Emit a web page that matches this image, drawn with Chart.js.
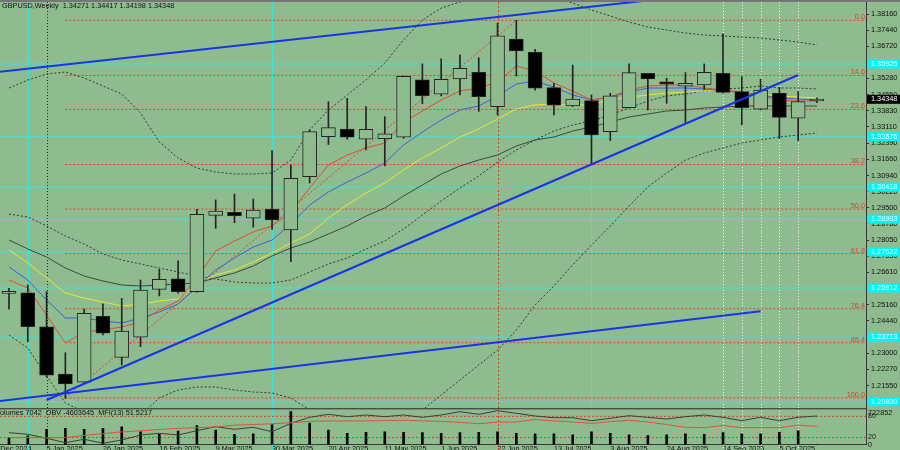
<!DOCTYPE html>
<html>
<head>
<meta charset="utf-8">
<title>GBPUSD Weekly</title>
<script src="https://cdn.jsdelivr.net/npm/chart.js@4.4.1/dist/chart.umd.min.js"></script>
<style>
  html, body { margin:0; padding:0; width:900px; height:450px; overflow:hidden; background:#8fbc8f; }
  #wrap { position:relative; width:900px; height:450px; overflow:hidden; background:#8fbc8f; }
  canvas { position:absolute; left:0; display:block; }
  #main { top:0; }
  #ind { top:408px; }
</style>
</head>
<body>
<div id="wrap">
  <canvas id="main" width="900" height="409"></canvas>
  <canvas id="ind" width="900" height="48"></canvas>
</div>
<script>
// ================= DATA =================
const symbolTitle = 'GBPUSD,Weekly';
const weeks = ['22 Dec 2024','29 Dec 2024','5 Jan 2025','12 Jan 2025','19 Jan 2025','26 Jan 2025','2 Feb 2025','9 Feb 2025','16 Feb 2025','23 Feb 2025','2 Mar 2025','9 Mar 2025','16 Mar 2025','23 Mar 2025','30 Mar 2025','6 Apr 2025','13 Apr 2025','20 Apr 2025','27 Apr 2025','4 May 2025','11 May 2025','18 May 2025','25 May 2025','1 Jun 2025','8 Jun 2025','15 Jun 2025','22 Jun 2025','29 Jun 2025','6 Jul 2025','13 Jul 2025','20 Jul 2025','27 Jul 2025','3 Aug 2025','10 Aug 2025','17 Aug 2025','24 Aug 2025','31 Aug 2025','7 Sep 2025','14 Sep 2025','21 Sep 2025','28 Sep 2025','5 Oct 2025','12 Oct 2025','19 Oct 2025'];

const opens  = [1.2567,1.2570,1.2418,1.2206,1.2170,1.2465,1.2281,1.2371,1.2585,1.2632,1.2575,1.2916,1.2930,1.2903,1.2943,1.2851,1.3089,1.3268,1.3302,1.3256,1.3259,1.3265,1.3522,1.3458,1.3526,1.3555,1.3402,1.3704,1.3645,1.3487,1.3405,1.3429,1.3290,1.3397,1.3551,1.3513,1.3494,1.3499,1.3551,1.3469,1.3391,1.3462,1.3350,1.34271];
const highs  = [1.2590,1.2605,1.2575,1.2302,1.2497,1.2520,1.2545,1.2627,1.2675,1.2713,1.2943,1.2985,1.3011,1.2989,1.3206,1.3141,1.3298,1.3424,1.3439,1.3402,1.3357,1.3539,1.3593,1.3616,1.3633,1.3621,1.3775,1.3788,1.3658,1.3506,1.3588,1.3454,1.3462,1.3593,1.3551,1.3529,1.3554,1.3593,1.3727,1.3536,1.3524,1.3488,1.3469,1.34417];
const lows   = [1.2497,1.2351,1.2193,1.2098,1.2167,1.2381,1.2247,1.2329,1.2556,1.2568,1.2573,1.2858,1.2883,1.2863,1.2853,1.2709,1.3061,1.3233,1.3256,1.3208,1.3137,1.3260,1.3415,1.3450,1.3454,1.3381,1.3365,1.3539,1.3476,1.3365,1.3402,1.3141,1.3250,1.3397,1.3387,1.3417,1.3330,1.3479,1.3462,1.3320,1.3387,1.3260,1.3250,1.34198];
const closes = [1.2575,1.2418,1.2202,1.2162,1.2478,1.2389,1.2399,1.2582,1.2630,1.2575,1.2921,1.2935,1.2914,1.2940,1.2895,1.3082,1.3290,1.3308,1.3265,1.3301,1.3280,1.3537,1.3451,1.3524,1.3573,1.3446,1.3718,1.3651,1.3484,1.3409,1.3436,1.3275,1.3450,1.3554,1.3526,1.3502,1.3506,1.3555,1.3466,1.3397,1.3476,1.3354,1.3424,1.34348];

const maRed    = [1.26270,1.25912,1.24705,1.23454,1.23946,1.24035,1.24169,1.24393,1.24929,1.25331,1.26359,1.27566,1.28013,1.28416,1.28684,1.29310,1.30382,1.31411,1.31857,1.32170,1.32394,1.33333,1.33824,1.34316,1.34718,1.34852,1.35121,1.35836,1.35612,1.35076,1.34718,1.34316,1.34450,1.34763,1.34942,1.34987,1.34987,1.34852,1.34763,1.34674,1.34495,1.34316,1.34271,1.34271];
const maBlue   = [1.26851,1.26270,1.25376,1.24571,1.24571,1.24437,1.24348,1.24571,1.24840,1.25198,1.25957,1.26717,1.27253,1.27745,1.28058,1.28773,1.29622,1.30204,1.30651,1.31053,1.31500,1.32305,1.32884,1.33422,1.33869,1.34048,1.34495,1.35031,1.35165,1.34897,1.34540,1.34316,1.34450,1.34674,1.34852,1.34852,1.34852,1.34808,1.34718,1.34674,1.34540,1.34405,1.34361,1.34316];
const maYellow = [1.27611,1.27030,1.26359,1.25689,1.25465,1.25287,1.25108,1.25198,1.25331,1.25421,1.26136,1.26494,1.26717,1.27075,1.27477,1.27924,1.28326,1.29041,1.29622,1.30159,1.30606,1.31187,1.31723,1.32170,1.32662,1.33020,1.33467,1.33914,1.34093,1.34137,1.34048,1.34137,1.34316,1.34450,1.34540,1.34629,1.34674,1.34718,1.34763,1.34674,1.34584,1.34495,1.34450,1.34405];
const maDark   = [1.28058,1.27656,1.27298,1.26806,1.26449,1.26225,1.26047,1.26002,1.26047,1.26091,1.26136,1.26359,1.26583,1.26896,1.27343,1.27700,1.27968,1.28326,1.28684,1.29130,1.29488,1.30025,1.30516,1.31008,1.31366,1.31634,1.31857,1.32260,1.32528,1.32662,1.32930,1.33109,1.33333,1.33557,1.33690,1.33824,1.33869,1.33958,1.34003,1.34048,1.34048,1.34048,1.34048,1.34048];
const bbUpper  = [1.34852,1.35210,1.35478,1.35568,1.35299,1.34942,1.34584,1.33735,1.32438,1.31723,1.31276,1.31098,1.31008,1.31008,1.31053,1.31634,1.32975,1.33869,1.34540,1.35210,1.35970,1.36998,1.37892,1.38428,1.38697,1.38875,1.39010,1.39054,1.39010,1.38875,1.38652,1.38339,1.38071,1.37803,1.37579,1.37445,1.37311,1.37222,1.37177,1.37132,1.37087,1.36998,1.36909,1.36775];
const bbMiddle = [1.29220,1.29086,1.28684,1.28237,1.27879,1.27432,1.27164,1.26985,1.26806,1.26628,1.26449,1.26315,1.26181,1.26136,1.26136,1.26270,1.26628,1.26985,1.27253,1.27656,1.28013,1.28550,1.29175,1.29801,1.30382,1.30919,1.31545,1.32081,1.32528,1.32930,1.33199,1.33377,1.33646,1.33958,1.34271,1.34495,1.34584,1.34718,1.34808,1.34852,1.34942,1.34852,1.34852,1.34808];
const bbLower  = [1.23811,1.23230,1.21979,1.20772,1.20370,1.20012,1.19789,1.20234,1.20995,1.21353,1.21487,1.21487,1.21353,1.21264,1.21219,1.20995,1.20459,1.20191,1.20101,1.20191,1.20101,1.20101,1.20459,1.21129,1.21800,1.22470,1.23136,1.24035,1.25152,1.26002,1.26941,1.27834,1.28684,1.29578,1.30427,1.31053,1.31634,1.31947,1.32170,1.32394,1.32528,1.32662,1.32751,1.32841];

const volumes = [142000,191000,334000,355000,334000,355000,389000,283000,227000,298000,419000,319000,227000,234000,440000,722852,474000,319000,249000,270000,283000,270000,262000,249000,262000,270000,283000,249000,234000,234000,213000,283000,249000,213000,198000,213000,234000,227000,262000,234000,234000,270000,304000,7042];
const obv = [-6023000,-6159000,-6499000,-6873000,-6584000,-6924000,-6644000,-6219000,-6074000,-6219000,-5853000,-5513000,-5734000,-5564000,-5938000,-5224000,-4714000,-4459000,-4663000,-4519000,-4663000,-4519000,-4714000,-4519000,-4238000,-4459000,-4153000,-4374000,-4604000,-4748000,-4748000,-5003000,-4799000,-4578000,-4714000,-4859000,-4663000,-4519000,-4714000,-5003000,-4714000,-5003000,-4714000,-4603645];
const mfi = [20,20,19,20,26,31,36,39,43,46,48,50,55,57,59,62,66,67,67,67,68,69,67,66,63,59,64,64,71,67,64,60,65,69,64,57,49,48,54,48,48,48,55,51.5217];
const mfiLevels = [80, 20];

const priceTicks = [1.38160,1.37440,1.36720,1.35280,1.34550,1.33830,1.33110,1.32390,1.31660,1.30940,1.30220,1.29500,1.28780,1.28050,1.27330,1.26610,1.25160,1.24440,1.23000,1.22270,1.21550];
const mfiTicks = [80, 20, 0];
const dateTickIdx = [-1,2,5,8,11,14,17,20,23,26,29,32,35,38,41];
const dateTickLabels = ['15 Dec 2024','5 Jan 2025','26 Jan 2025','16 Feb 2025','9 Mar 2025','30 Mar 2025','20 Apr 2025','11 May 2025','1 Jun 2025','22 Jun 2025','13 Jul 2025','3 Aug 2025','24 Aug 2025','14 Sep 2025','5 Oct 2025'];

const fibLabels = ['0.0','14.6','23.6','38.2','50.0','61.8','76.4','85.4','100.0'];
const fibPrices = [1.37880,1.35416,1.33896,1.31432,1.29440,1.27448,1.24984,1.23465,1.21000];
const fibStartIdx = 3;
const fibDiagonal = [{x:3, y:1.21000}, {x:27, y:1.37880}];

const cyanLevels = [1.35925,1.32676,1.30418,1.28983,1.27522,1.25912,1.23713,1.20830];

const trendUpper = [{x:-1, y:1.35532}, {x:34, y:1.38767}];
const trendMain  = [{x:2,  y:1.20906}, {x:42, y:1.35434}];
const trendLower = [{x:-1, y:1.20807}, {x:40, y:1.24871}];

const vCyanIdx = [1, 14, 31];
const vBlackDotIdx = [2];
const vRedDotIdx = [26];
const vWhiteDotIdx = [38, 39, 40, 41, 42];

// ================= LAYOUT / STYLE =================
const BG = '#8fbc8f';
const INK = '#111111';
const CANDLE_LINE = '#242424';
const FIB_RED = '#e0402c';
const CYAN_LINE = '#3fe3d6';
const FONT = 'Liberation Sans';
const FS = 7.3;
const X_MIN = -0.479, X_MAX = 45.61;
const Y_MIN = 1.20548, Y_MAX = 1.38697;
const VOL_MAX = 775000;
const OBV_MIN = -7035000, OBV_MAX = -4034000;
const AXIS_W = 34;

Chart.defaults.font.family = FONT;
Chart.defaults.font.size = FS;
Chart.defaults.color = INK;

const N = weeks.length;
const idx = weeks.map((_, i) => i);
const pts = arr => arr.map((v, i) => ({x: i, y: v}));

function lineDs(data, color, order, dash, width, yAxisID) {
  return { type: 'line', data, borderColor: color, borderWidth: width || 1, borderDash: dash || [],
           pointRadius: 0, pointHoverRadius: 0, tension: 0, fill: false, order, yAxisID: yAxisID || 'y' };
}
function noPad(s) { s.paddingTop = 0; s.paddingBottom = 0; s.paddingLeft = 0; s.paddingRight = 0; }

function drawVerticals(ctx, xs, y0, y1) {
  const groups = [
    [vCyanIdx, CYAN_LINE, []],
    [vBlackDotIdx, '#2a2a2a', [1, 2]],
    [vRedDotIdx, '#d2442e', [2, 2]],
    [vWhiteDotIdx, '#f4f4f4', [1, 2]]
  ];
  ctx.save();
  ctx.lineWidth = 1;
  groups.forEach(([list, color, dash]) => {
    ctx.strokeStyle = color;
    ctx.setLineDash(dash);
    list.forEach(i => {
      const x = Math.round(xs.getPixelForValue(i)) + 0.5;
      ctx.beginPath(); ctx.moveTo(x, y0); ctx.lineTo(x, y1); ctx.stroke();
    });
  });
  ctx.restore();
}

// ================= MAIN CHART =================
const mainDecor = {
  id: 'mainDecor',
  beforeDatasetsDraw(chart) {
    const {ctx, chartArea: a, scales: {x}} = chart;
    ctx.save();
    ctx.beginPath(); ctx.rect(a.left, a.top, a.right - a.left, a.bottom - a.top); ctx.clip();
    drawVerticals(ctx, x, a.top, a.bottom);
    ctx.restore();
  },
  afterDraw(chart) {
    const {ctx, chartArea: a, scales: {y}} = chart;
    ctx.save();
    ctx.fillStyle = '#767676';
    ctx.fillRect(0, 0, 900, 2);
    ctx.font = FS + 'px "' + FONT + '"';
    const last = N - 1;
    const header = symbolTitle + '  ' + [opens[last], highs[last], lows[last], closes[last]].map(v => v.toFixed(5)).join(' ');
    ctx.fillStyle = INK; ctx.textAlign = 'left'; ctx.textBaseline = 'middle';
    ctx.fillText(header, 2, 5.5);
    ctx.fillStyle = FIB_RED; ctx.textAlign = 'right'; ctx.textBaseline = 'bottom';
    fibPrices.forEach((p, k) => ctx.fillText(fibLabels[k], a.right - 1, y.getPixelForValue(p) + 0.5));
    ctx.textAlign = 'left'; ctx.textBaseline = 'middle';
    cyanLevels.forEach(p => {
      const py = y.getPixelForValue(p);
      ctx.fillStyle = '#00f5f5';
      ctx.fillRect(a.right + 1, py - 4.5, 900 - a.right - 1, 9);
      ctx.fillStyle = '#e8ffff';
      ctx.fillText(p.toFixed(5), a.right + 5, py);
    });
    const cp = closes[last];
    const cpy = y.getPixelForValue(cp);
    ctx.fillStyle = '#000';
    ctx.fillRect(a.right + 1, cpy - 4.5, 900 - a.right - 1, 9);
    ctx.fillStyle = '#fff';
    ctx.fillText(cp.toFixed(5), a.right + 5, cpy);
    ctx.restore();
  }
};

const mainDatasets = [
  { type: 'bar', label: 'wicks', data: idx.map(i => ({x: i, y: [lows[i], highs[i]]})),
    backgroundColor: CANDLE_LINE, barThickness: 1, grouped: false, order: 3 },
  { type: 'bar', label: 'bodies', data: idx.map(i => ({x: i, y: [Math.min(opens[i], closes[i]), Math.max(opens[i], closes[i])]})),
    backgroundColor: idx.map(i => closes[i] >= opens[i] ? BG : '#000000'),
    borderColor: CANDLE_LINE, borderWidth: 1, borderSkipped: false, barThickness: 14, minBarLength: 2,
    grouped: false, order: 2 },
  lineDs(trendUpper, '#1834e8', 0, [], 2),
  lineDs(trendMain,  '#1834e8', 0, [], 2),
  lineDs(trendLower, '#1834e8', 0, [], 2),
  lineDs(pts(maRed),    '#e04a34', 10),
  lineDs(pts(maBlue),   '#3f5fe0', 11),
  lineDs(pts(maYellow), '#e6e63a', 12),
  lineDs(pts(maDark),   '#3e4a3e', 13),
  lineDs(pts(bbUpper),  '#343a34', 14, [2, 2]),
  lineDs(pts(bbMiddle), '#343a34', 14, [2, 2]),
  lineDs(pts(bbLower),  '#343a34', 14, [2, 2]),
  lineDs(fibDiagonal, FIB_RED, 20, [2, 2]),
  ...fibPrices.map(p => lineDs([{x: fibStartIdx, y: p}, {x: X_MAX, y: p}], FIB_RED, 21, [2, 2])),
  ...cyanLevels.map(p => lineDs([{x: X_MIN, y: p}, {x: X_MAX, y: p}], CYAN_LINE, 22))
];

new Chart(document.getElementById('main'), {
  type: 'bar',
  data: { datasets: mainDatasets },
  options: {
    responsive: false, animation: false, devicePixelRatio: 1,
    layout: { padding: { top: 2, bottom: 1, left: 0, right: 0 } },
    plugins: { legend: { display: false }, tooltip: { enabled: false } },
    events: [],
    scales: {
      x: { type: 'linear', min: X_MIN, max: X_MAX, display: false, offset: false, grid: { display: false },
           afterFit: s => noPad(s) },
      y: {
        type: 'linear', position: 'right', min: Y_MIN, max: Y_MAX,
        afterBuildTicks: s => { s.ticks = priceTicks.map(v => ({value: v})); },
        afterFit: s => { s.width = AXIS_W; noPad(s); },
        ticks: { autoSkip: false, padding: 2, color: INK, font: { family: FONT, size: FS },
                 callback: v => Number(v).toFixed(5) },
        grid: { drawOnChartArea: false, drawTicks: true, tickLength: 3, color: '#333333' },
        border: { display: true, color: '#3a3a3a', width: 1 }
      }
    }
  },
  plugins: [mainDecor]
});

// ================= INDICATOR WINDOW =================
const indDecor = {
  id: 'indDecor',
  beforeDatasetsDraw(chart) {
    drawVerticals(chart.ctx, chart.scales.x, 0, chart.height);
  },
  afterDraw(chart) {
    const {ctx, chartArea: a, scales: {vol}} = chart;
    ctx.save();
    ctx.fillStyle = '#4a4a4a';
    ctx.fillRect(0, 0, a.right, 1.4);
    ctx.font = FS + 'px "' + FONT + '"';
    ctx.fillStyle = INK; ctx.textAlign = 'left'; ctx.textBaseline = 'middle';
    const last = N - 1;
    ctx.fillText('Volumes ' + volumes[last] + '  OBV ' + obv[last] + '  MFI(13) ' + mfi[last].toFixed(4), -4.5, 4.9);
    const vmax = Math.max(...volumes);
    ctx.fillText(String(vmax), a.right + 2, vol.getPixelForValue(vmax) + 1);
    ctx.restore();
  }
};

new Chart(document.getElementById('ind'), {
  type: 'bar',
  data: {
    datasets: [
      { type: 'bar', data: pts(volumes), yAxisID: 'vol', backgroundColor: '#050505', barThickness: 2, grouped: false, order: 5 },
      lineDs(pts(obv), '#3a3f3a', 2, [], 1, 'obv'),
      lineDs(pts(mfi), '#e0503a', 1, [], 1, 'mfi'),
      ...mfiLevels.map(l => lineDs([{x: X_MIN, y: l}, {x: X_MAX, y: l}], FIB_RED, 6, [2, 2], 1, 'mfi'))
    ]
  },
  options: {
    responsive: false, animation: false, devicePixelRatio: 1,
    layout: { padding: { top: 1.3, bottom: 0, left: 0, right: 0 } },
    plugins: { legend: { display: false }, tooltip: { enabled: false } },
    events: [],
    scales: {
      x: {
        type: 'linear', position: 'bottom', min: X_MIN, max: X_MAX, offset: false,
        afterBuildTicks: s => { s.ticks = dateTickIdx.map(v => ({value: v})); },
        afterFit: s => { s.height = 11.4; noPad(s); },
        ticks: { autoSkip: false, maxRotation: 0, minRotation: 0, align: 'start', padding: 0, color: INK,
                 font: { family: FONT, size: FS }, callback: (v, k) => dateTickLabels[k] },
        grid: { display: false, drawTicks: false },
        border: { display: true, color: '#3a3a3a', width: 1 }
      },
      mfi: {
        type: 'linear', position: 'right', min: 0, max: 100,
        afterBuildTicks: s => { s.ticks = mfiTicks.map(v => ({value: v})); },
        afterFit: s => { s.width = AXIS_W; noPad(s); },
        ticks: { autoSkip: false, padding: 2, color: INK, font: { family: FONT, size: 7 }, callback: v => String(v) },
        grid: { drawOnChartArea: false, drawTicks: false },
        border: { display: true, color: '#3a3a3a', width: 1 }
      },
      vol: { type: 'linear', position: 'right', display: false, min: 0, max: VOL_MAX, afterFit: s => noPad(s) },
      obv: { type: 'linear', position: 'right', display: false, min: OBV_MIN, max: OBV_MAX, afterFit: s => noPad(s) }
    }
  },
  plugins: [indDecor]
});
</script>
</body>
</html>
